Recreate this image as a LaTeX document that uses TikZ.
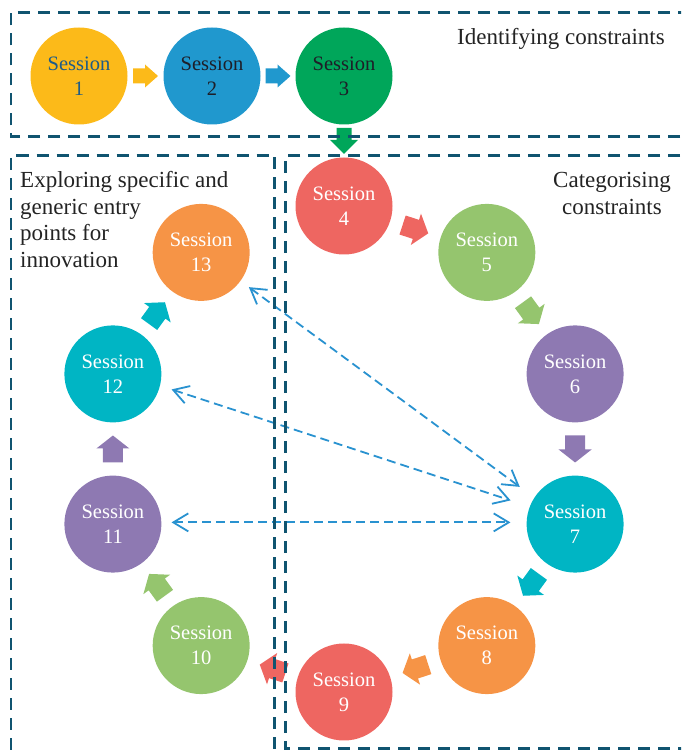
\documentclass[tikz,border=0pt]{standalone}
\usepackage{fontspec}
\setmainfont{Liberation Serif}
\usetikzlibrary{arrows.meta,calc}
\definecolor{boxc}{RGB}{16,84,112}
\definecolor{connc}{RGB}{41,146,208}
\definecolor{cyellow}{RGB}{252,186,25}
\definecolor{cblue}{RGB}{32,152,206}
\definecolor{cgreen}{RGB}{0,166,90}
\definecolor{cred}{RGB}{238,102,97}
\definecolor{clgreen}{RGB}{149,197,110}
\definecolor{cpurple}{RGB}{142,121,178}
\definecolor{cteal}{RGB}{0,181,196}
\definecolor{corange}{RGB}{246,148,70}
\definecolor{ctextone}{RGB}{30,92,135}
\definecolor{cdark}{RGB}{30,30,40}
\definecolor{labc}{RGB}{35,35,35}
\begin{document}
\begin{tikzpicture}[x=1pt,y=1pt,
  session/.style={circle, inner sep=0pt, minimum size=97pt, align=center,
    font=\fontsize{20.5}{25}\selectfont, text=white},
  boxline/.style={draw=boxc, line width=2.8pt, dash pattern=on 12pt off 8pt},
  conn/.style={draw=connc, line width=1.8pt, dash pattern=on 9pt off 5pt,
    {Straight Barb[length=15pt,width=18pt]}-{Straight Barb[length=15pt,width=18pt]}},
  lbl/.style={font=\fontsize{23}{26.8}\selectfont, text=labc, inner sep=0pt},
  pics/barrow/.style args={#1/#2/#3/#4}{code={
    \fill ({-#1/2},{-#2}) -- ({#1/2-#4},{-#2}) -- ({#1/2-#4},{-#3}) -- ({#1/2},0)
      -- ({#1/2-#4},{#3}) -- ({#1/2-#4},{#2}) -- ({-#1/2},{#2}) -- cycle;}},
]
\useasboundingbox (0,0) rectangle (681,750);
\clip (0,0) rectangle (681,750);

\coordinate (c) at (344,301);

% top row
\node[session, fill=cyellow, text=ctextone] (s1) at (79,674) {Session\\1};
\node[session, fill=cblue, text=cdark] (s2) at (212,674) {Session\\2};
\node[session, fill=cgreen, text=cdark] (s3) at (344,674) {Session\\3};

% ring
\foreach \i/\col [count=\k from 0] in {4/cred,5/clgreen,6/cpurple,7/cteal,8/corange,9/cred,10/clgreen,11/cpurple,12/cteal,13/corange}
  \node[session, fill=\col] (s\i) at ($(c)+({90-36*\k}:243)$) {Session\\\i};

% block arrows
\path (s1) -- (s2) pic[pos=0.5, sloped, allow upside down, color=cyellow] {barrow=25/7.5/11.5/13};
\path (s2) -- (s3) pic[pos=0.5, sloped, allow upside down, color=cblue] {barrow=25/7.5/11.5/13};
\path (s3) -- (s4) pic[pos=0.5, sloped, allow upside down, color=cgreen] {barrow=26/7.5/14/14};
\foreach \a/\b/\col in {4/5/cred,5/6/clgreen,6/7/cpurple,7/8/cteal,8/9/corange,9/10/cred,10/11/clgreen,11/12/cpurple,12/13/cteal}
  \path (s\a) -- (s\b) pic[pos=0.5, sloped, allow upside down, color=\col] {barrow=27/10/16.5/13};

% dashed connectors
\draw[conn, shorten <=10.3pt, shorten >=18pt] (s13.-36) -- (s7.147);
\draw[conn, shorten <=12pt, shorten >=20pt] (s12.-14.5) -- (s7.159);
\draw[conn, shorten <=10pt, shorten >=16pt] (s11.2) -- (s7.178);

% labels
\node[lbl, anchor=base east] (l1) at (665,705) {Identifying constraints};
\node[lbl, anchor=north, align=center] (l2) at (612,577.5) {Categorising\\constraints};
\node[lbl, anchor=north west, align=left] (l3) at (20,579) {Exploring specific and\\generic entry\\points for\\innovation};

% dashed boxes
\draw[boxline] (700,613.5) -- (11,613.5) -- (11,737.5) -- (700,737.5);
\draw[boxline] (11,-20) -- (11,594.5) -- (274.5,594.5) -- (274.5,-20);
\draw[boxline] (700,594.5) -- (285.5,594.5) -- (285.5,1.5) -- (700,1.5);
\end{tikzpicture}
\end{document}
